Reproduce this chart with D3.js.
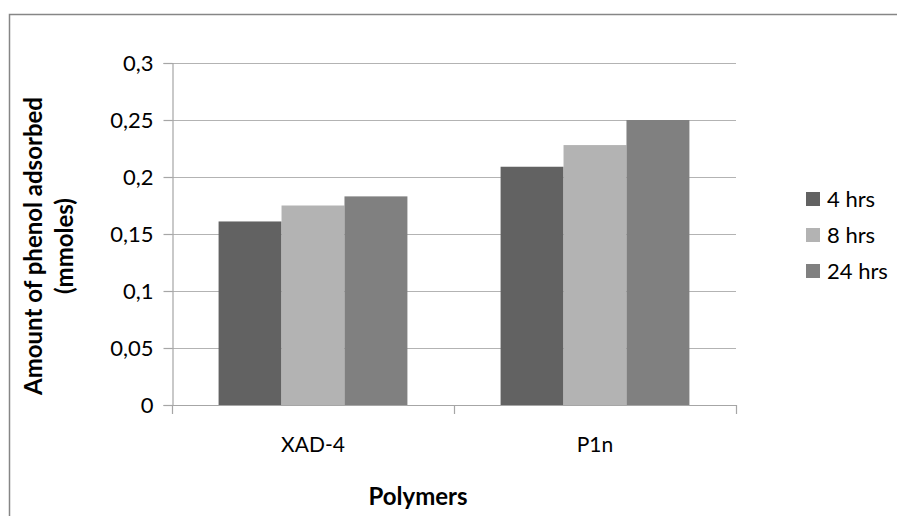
<html>
<head>
<style>
  body { margin: 0; background: #fff; }
  text { font-family: Lato, "Open Sans", sans-serif; fill: #000; }
</style>
</head>
<body>
<svg id="chart" width="897" height="516"></svg>
<script src="https://d3js.org/d3.v7.min.js"></script>
<script>
// data
var categories = ["XAD-4", "P1n"];
var seriesNames = ["4 hrs", "8 hrs", "24 hrs"];
var hrs4 = [0.161, 0.209];
var hrs8 = [0.175, 0.228];
var hrs24 = [0.183, 0.250];
var yTicks = [0, 0.05, 0.1, 0.15, 0.2, 0.25, 0.3];
var yTickLabels = ["0", "0,05", "0,1", "0,15", "0,2", "0,25", "0,3"];
var seriesColors = ["#626262", "#b3b3b3", "#808080"];

var width = 897, height = 516;
var margin = {top: 63, right: 161, bottom: 111, left: 172};

var svg = d3.select("#chart");

// outer frame of the chart area
svg.append("rect")
    .attr("x", 9.5).attr("y", 14.5)
    .attr("width", 920).attr("height", 540)
    .attr("fill", "none")
    .attr("stroke", "#868686")
    .attr("stroke-width", 1.5);

var x0 = d3.scaleBand()
    .domain(categories)
    .range([margin.left, width - margin.right]);

var x1 = d3.scaleBand()
    .domain(seriesNames)
    .range([0, x0.bandwidth()])
    .paddingOuter(0.74);

var y = d3.scaleLinear()
    .domain([0, 0.3])
    .range([height - margin.bottom, margin.top]);

// gridlines
svg.append("g")
    .selectAll("line")
    .data(yTicks.slice(1))
    .enter().append("line")
    .attr("x1", margin.left).attr("x2", width - margin.right)
    .attr("y1", d => Math.round(y(d)) + 0.5)
    .attr("y2", d => Math.round(y(d)) + 0.5)
    .attr("stroke", "#b3b3b3")
    .attr("stroke-width", 1.2);

// bars
var seriesVals = [hrs4, hrs8, hrs24];
var groups = svg.append("g").selectAll("g")
    .data(categories)
    .enter().append("g")
    .attr("transform", d => "translate(" + x0(d) + ",0)");

groups.selectAll("rect")
    .data((c, ci) => seriesNames.map((s, si) => ({s: s, v: seriesVals[si][ci], i: si})))
    .enter().append("rect")
    .attr("x", d => x1(d.s))
    .attr("width", x1.bandwidth())
    .attr("y", d => y(d.v))
    .attr("height", d => y(0) - y(d.v))
    .attr("fill", d => seriesColors[d.i]);

// y axis
var yAxis = d3.axisLeft(y)
    .tickValues(yTicks)
    .tickFormat((d, i) => yTickLabels[i])
    .tickSize(9)
    .tickPadding(10);

var gy = svg.append("g")
    .attr("transform", "translate(" + (margin.left + 0.5) + ",0)")
    .call(yAxis);
gy.select(".domain").attr("stroke", "#a6a6a6").attr("stroke-width", 1.2);
gy.selectAll(".tick line").attr("stroke", "#a6a6a6").attr("stroke-width", 1.2);
gy.selectAll(".tick text").style("font-size", "22px").attr("fill", "#000");

// x axis: ticks at category boundaries
var xAxisLine = svg.append("g");
xAxisLine.append("line")
    .attr("x1", margin.left).attr("x2", width - margin.right)
    .attr("y1", y(0) + 0.5).attr("y2", y(0) + 0.5)
    .attr("stroke", "#a6a6a6").attr("stroke-width", 1.2);
var bounds = categories.map(c => x0(c)).concat([x0(categories[categories.length - 1]) + x0.bandwidth()]);
xAxisLine.selectAll("line.tk")
    .data(bounds)
    .enter().append("line")
    .attr("class", "tk")
    .attr("x1", d => Math.round(d) + 0.5).attr("x2", d => Math.round(d) + 0.5)
    .attr("y1", y(0)).attr("y2", y(0) + 9)
    .attr("stroke", "#a6a6a6").attr("stroke-width", 1.2);

svg.append("g").selectAll("text")
    .data(categories)
    .enter().append("text")
    .attr("x", d => x0(d) + x0.bandwidth() / 2)
    .attr("y", 452)
    .attr("text-anchor", "middle")
    .style("font-size", "21px")
    .text(d => d);

// axis titles
svg.append("text")
    .attr("x", 418).attr("y", 505)
    .attr("text-anchor", "middle")
    .style("font-size", "24px")
    .style("font-weight", "bold")
    .text("Polymers");

var yt = svg.append("text")
    .attr("transform", "translate(0,246) rotate(-90)")
    .attr("text-anchor", "middle")
    .style("font-size", "24px")
    .style("font-weight", "bold");
yt.append("tspan").attr("x", 0).attr("y", 42).text("Amount of phenol adsorbed");
yt.append("tspan").attr("x", 0).attr("y", 73).text("(mmoles)");

// legend
var legend = svg.append("g").selectAll("g")
    .data(seriesNames)
    .enter().append("g")
    .attr("transform", (d, i) => "translate(806," + (192 + i * 36) + ")");
legend.append("rect")
    .attr("width", 14).attr("height", 14)
    .attr("fill", (d, i) => seriesColors[i]);
legend.append("text")
    .attr("x", 21).attr("y", 14.5)
    .style("font-size", "22px")
    .text(d => d);
</script>
</body>
</html>
